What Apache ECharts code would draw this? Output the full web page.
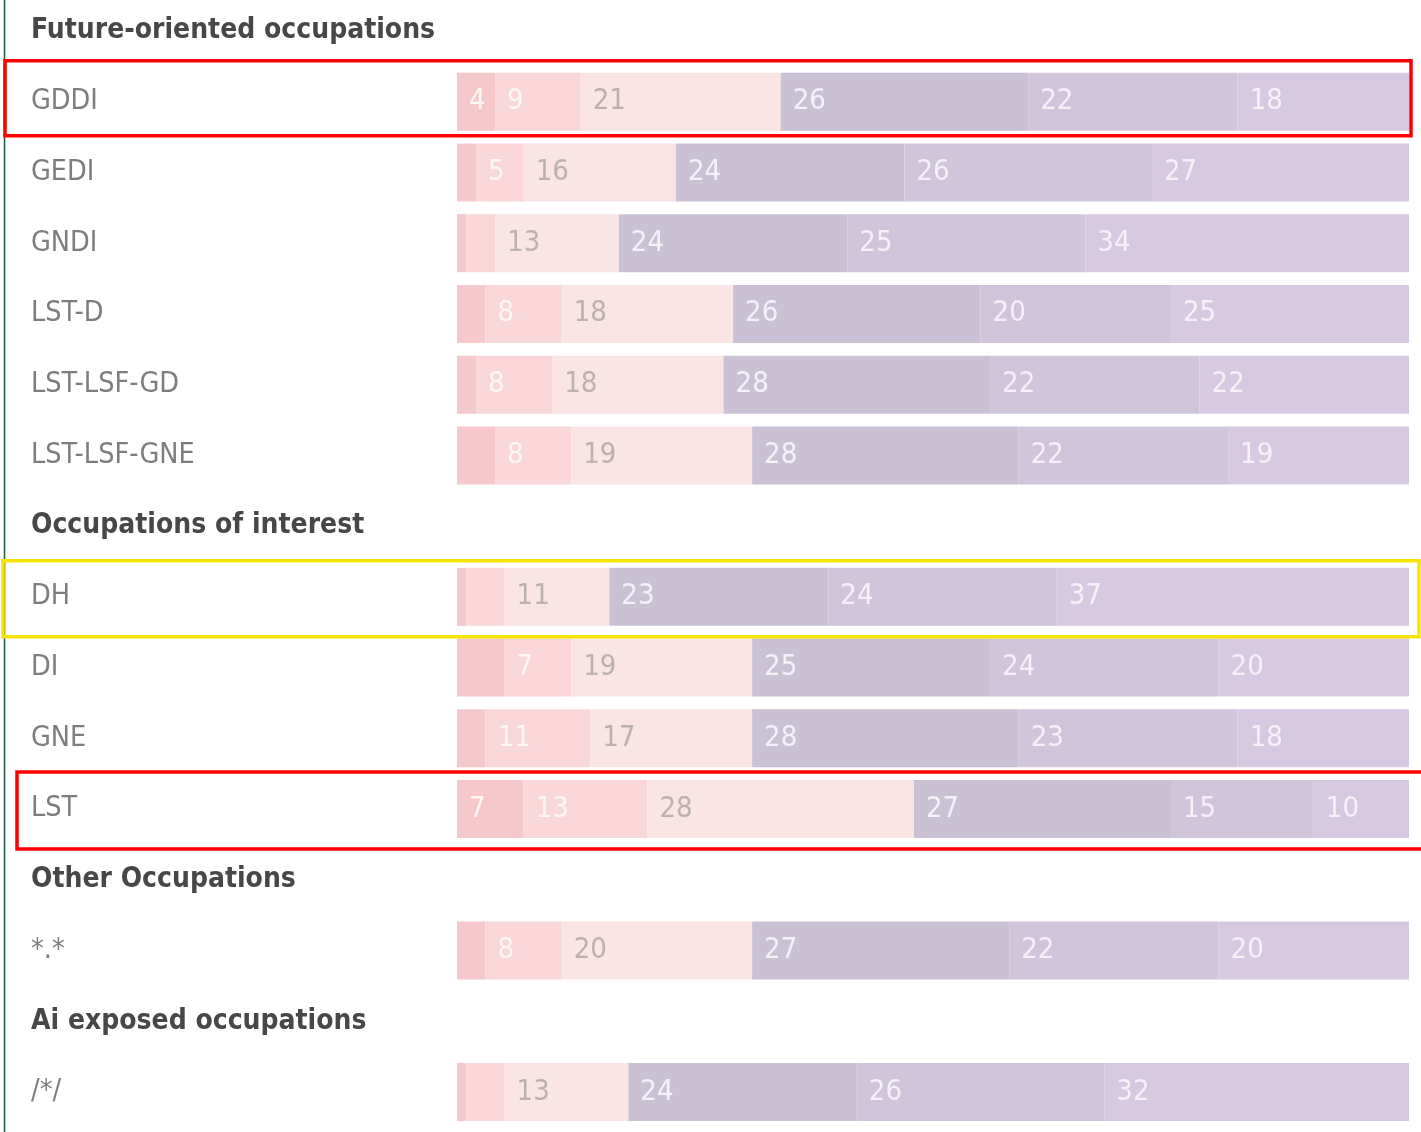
<!DOCTYPE html>
<html>
<head>
<meta charset="utf-8">
<script src="https://cdn.jsdelivr.net/npm/echarts@6/dist/echarts.min.js"></script>
<style>
html,body{margin:0;padding:0;background:#fff;}
#chart{width:1421px;height:1132px;}
</style>
</head>
<body>
<div id="chart"></div>
<script>
// Row categories (top to bottom), including section headers
const categories = ['Future-oriented occupations','GDDI','GEDI','GNDI','LST-D','LST-LSF-GD','LST-LSF-GNE',
  'Occupations of interest','DH','DI','GNE','LST','Other Occupations','*.*','Ai exposed occupations','/*/'];
const headers = ['Future-oriented occupations','Occupations of interest','Other Occupations','Ai exposed occupations'];
// Bar rows, in the same order as the values below
const barRows = ['GDDI','GEDI','GNDI','LST-D','LST-LSF-GD','LST-LSF-GNE','DH','DI','GNE','LST','*.*','/*/'];
// Six stacked segments (percent), one value per bar row
const seg1 = [4, 2, 1, 3, 2, 4, 1, 5, 3, 7, 3, 1];
const seg2 = [9, 5, 3, 8, 8, 8, 4, 7, 11, 13, 8, 4];
const seg3 = [21, 16, 13, 18, 18, 19, 11, 19, 17, 28, 20, 13];
const seg4 = [26, 24, 24, 26, 28, 28, 23, 25, 28, 27, 27, 24];
const seg5 = [22, 26, 25, 20, 22, 22, 24, 24, 23, 15, 22, 26];
const seg6 = [18, 27, 34, 25, 22, 19, 37, 20, 18, 10, 20, 32];
// Segments whose value is not printed in the picture: [row, segment index]
const unlabeled = [['GEDI',0],['GNDI',0],['GNDI',1],['LST-D',0],['LST-LSF-GD',0],['LST-LSF-GNE',0],
  ['DH',0],['DH',1],['DI',0],['GNE',0],['*.*',0],['/*/',0],['/*/',1]];

const segColors = ['#f5c8cc','#f9d6d7','#fbe4e4','#cbc1d4','#d1c5dc','#d6c9e1'];
const segText = ['#fdf6f6','#fdf6f6','#bcb0b0','#f5f1f9','#f5f1f9','#f5f1f9'];
const FONT = "'Liberation Sans Narrow','DejaVu Sans Condensed','Roboto',sans-serif";

const segs = [seg1, seg2, seg3, seg4, seg5, seg6];
const series = segs.map((vals, si) => ({
  type: 'bar',
  stack: 'total',
  barWidth: 58,
  clip: false,
  itemStyle: { color: segColors[si] },
  label: {
    show: true,
    position: 'insideLeft',
    distance: 12,
    color: segText[si],
    fontFamily: FONT,
    fontSize: 29,
    formatter: p => p.value
  },
  emphasis: { disabled: true },
  data: categories.map(c => {
    const ri = barRows.indexOf(c);
    if (ri < 0) return '-';
    const hide = unlabeled.some(u => u[0] === c && u[1] === si);
    return hide ? { value: vals[ri], label: { show: false } } : vals[ri];
  })
}));

const chart = echarts.init(document.getElementById('chart'));
chart.setOption({
  animation: false,
  grid: { left: 457, right: 12, top: 31, height: 1061, containLabel: false },
  xAxis: { type: 'value', min: 0, max: 100, show: false },
  yAxis: {
    type: 'category',
    inverse: true,
    boundaryGap: false,
    data: categories,
    axisLine: { show: false },
    axisTick: { show: false },
    splitLine: { show: false },
    axisLabel: {
      align: 'left',
      margin: 426,
      formatter: v => headers.includes(v) ? '{h|' + v + '}' : '{c|' + v + '}',
      rich: {
        h: { fontFamily: FONT, fontWeight: 'bold', fontSize: 28, color: '#474747' },
        c: { fontFamily: FONT, fontSize: 28.5, color: '#7d7d7d' }
      }
    }
  },
  series: series
});

// Annotation overlays
const yOf = c => chart.convertToPixel({ yAxisIndex: 0 }, c);
const boxes = [
  { row: 'GDDI', x1: 5, x2: 1411, up: 41, down: 34, color: '#ff0000' },
  { row: 'DH', x1: 3, x2: 1419, up: 36, down: 40, color: '#f7e400' },
  { row: 'LST', x1: 17, x2: 1425, up: 37, down: 40, color: '#ff0000' }
];
chart.setOption({
  graphic: [
    { type: 'line', shape: { x1: 4.5, y1: 0, x2: 4.5, y2: 1132 }, style: { stroke: '#1f5c3c', lineWidth: 1.5 } }
  ].concat(boxes.map(b => {
    const cy = yOf(b.row);
    return {
      type: 'rect',
      shape: { x: b.x1, y: cy - b.up, width: b.x2 - b.x1, height: b.up + b.down },
      style: { fill: 'none', stroke: b.color, lineWidth: 3.5 },
      z: 100
    };
  }))
});
</script>
</body>
</html>
